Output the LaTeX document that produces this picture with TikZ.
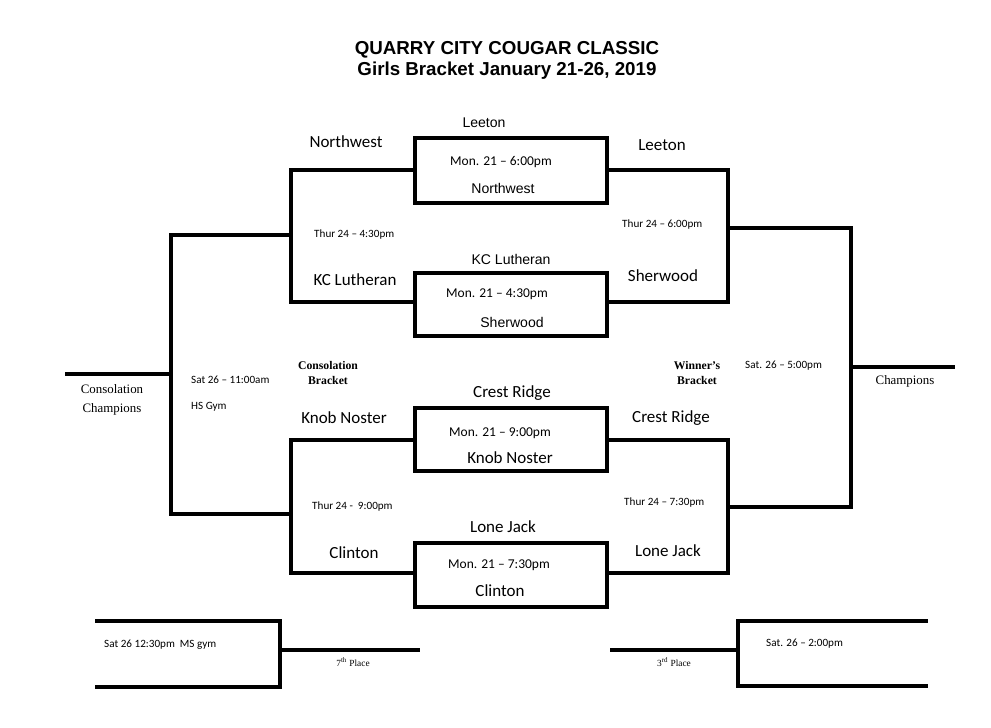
\documentclass[tikz,border=0pt]{standalone}
\usepackage{fontspec}
\setmainfont{Liberation Sans}
\newfontfamily\myCal{Carlito}
\newfontfamily\mySer{Liberation Serif}
\begin{document}
\begin{tikzpicture}[x=0.03cm,y=-0.03cm,
  ln/.style={line width=2.8pt,line cap=rect},
  team/.style={font=\myCal\fontsize{14.5}{16}\selectfont,inner sep=0},
  ar/.style={font=\fontsize{12}{14}\selectfont,inner sep=0},
  sm/.style={font=\myCal\fontsize{9.5}{11}\selectfont,inner sep=0,anchor=west},
  tm/.style={font=\myCal\fontsize{11.5}{13}\selectfont,inner sep=0},
  sr/.style={font=\mySer\fontsize{9}{11}\selectfont,inner sep=0,align=center},
  sb/.style={font=\mySer\bfseries\fontsize{10}{13}\selectfont,inner sep=0,align=center}]
\useasboundingbox (0,0) rectangle (991,727);
% title
\node[font=\bfseries\fontsize{16}{18}\selectfont,align=center,inner sep=0] (title) at (507,60) {QUARRY CITY COUGAR CLASSIC\\Girls Bracket January 21-26, 2019};
% game boxes
\foreach \t/\b in {138/203,273/336,408/471,543/607}{
  \draw[ln] (607,\t) -- (415,\t) -- (415,\b) -- (607,\b) -- cycle;
}
% left semis
\draw[ln] (415,170) -- (291,170) -- (291,302) -- (415,302);
\draw[ln] (415,440) -- (291,440) -- (291,573) -- (415,573);
% right semis
\draw[ln] (607,170) -- (728,170) -- (728,302) -- (607,302);
\draw[ln] (607,440) -- (728,440) -- (728,573) -- (607,573);
% consolation final
\draw[ln] (291,235) -- (171,235) -- (171,514) -- (291,514);
\draw[ln] (171,374) -- (67,374);
% championship
\draw[ln] (728,228) -- (851,228) -- (851,507) -- (728,507);
\draw[ln] (851,367) -- (953,367);
% 7th place
\draw[ln] (97,621) -- (280,621) -- (280,687) -- (97,687);
\draw[ln] (280,650) -- (418,650);
% 3rd place
\draw[ln] (926,621) -- (738,621) -- (738,686) -- (926,686);
\draw[ln] (738,650) -- (612,650);
% box texts
\node[ar] (l1) at (484,123) {Leeton};
\node[tm] (t1) at (501,162) {Mon. 21 – 6:00pm};
\node[ar] (n1) at (503,188) {Northwest};
\node[ar] (l2) at (511,259) {KC Lutheran};
\node[tm] (t2) at (497,294) {Mon. 21 – 4:30pm};
\node[ar] (s2) at (512,322) {Sherwood};
\node[team] (c3) at (512,393) {Crest Ridge};
\node[tm] (t3) at (500,433) {Mon. 21 – 9:00pm};
\node[team] (k3) at (510,458) {Knob Noster};
\node[team] (j4) at (503,527) {Lone Jack};
\node[tm] (t4) at (499,565) {Mon. 21 – 7:30pm};
\node[team] (c4) at (500,591) {Clinton};
% semis names
\node[team] (nw) at (346,142) {Northwest};
\node[team] (kc) at (355,280) {KC Lutheran};
\node[team] (kn) at (344,418) {Knob Noster};
\node[team] (cl) at (354,553) {Clinton};
\node[team] (le) at (662,145) {Leeton};
\node[team] (sh) at (663,276) {Sherwood};
\node[team] (cr) at (671,418) {Crest Ridge};
\node[team] (lj) at (668,551) {Lone Jack};
% times
\node[sm] (a1) at (314,235) {Thur 24 – 4:30pm};
\node[sm] (a2) at (312,507) {Thur 24 -\ \ 9:00pm};
\node[sm] (a3) at (622,225) {Thur 24 – 6:00pm};
\node[sm] (a4) at (624,503) {Thur 24 – 7:30pm};
\node[sm] (a5) at (191,380) {Sat 26 – 11:00am};
\node[sm] (a6) at (191,407) {HS Gym};
\node[sm] (a7) at (745,366) {Sat. 26 – 5:00pm};
\node[sm] (a8) at (104,645) {Sat 26 12:30pm\ \ MS gym};
\node[sm] (a9) at (766,644) {Sat. 26 – 2:00pm};
% serif labels
\node[sb] (cb) at (328,373) {Consolation\\Bracket};
\node[sb] (wb) at (697,373) {Winner’s\\Bracket};
\node[sr,font=\mySer\fontsize{11}{16}\selectfont] (cc) at (112,400) {Consolation\\Champions};
\node[sr,font=\mySer\fontsize{11}{13}\selectfont] (ch) at (905,381) {Champions};
\node[sr,font=\mySer\fontsize{8}{9}\selectfont] (p7) at (353,662) {7\textsuperscript{th} Place};
\node[sr,font=\mySer\fontsize{8}{9}\selectfont] (p3) at (674,662) {3\textsuperscript{rd} Place};
\end{tikzpicture}
\end{document}
